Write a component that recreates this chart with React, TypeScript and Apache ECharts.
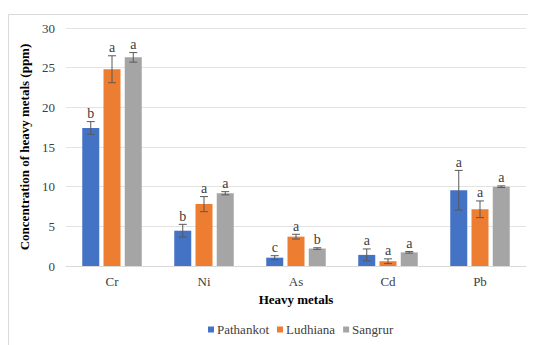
import React, { useEffect, useRef } from "react";
import * as echarts from "echarts";

const categories = ["Cr", "Ni", "As", "Cd", "Pb"];
const seriesNames = ["Pathankot", "Ludhiana", "Sangrur"];
const pathankot = [17.4, 4.45, 1.05, 1.4, 9.55];
const ludhiana = [24.8, 7.8, 3.7, 0.6, 7.15];
const sangrur = [26.3, 9.17, 2.2, 1.72, 10.0];
const pathankotErr = [0.8, 0.8, 0.25, 0.75, 2.5];
const ludhianaErr = [1.7, 0.95, 0.3, 0.3, 1.05];
const sangrurErr = [0.6, 0.2, 0.1, 0.1, 0.1];
const pathankotLetters = ["b", "b", "c", "a", "a"];
const ludhianaLetters = ["a", "a", "a", "a", "a"];
const sangrurLetters = ["a", "a", "b", "a", "a"];
const yTicks = { min: 0, max: 30, interval: 5 };

const colors = ["#4472C4", "#ED7D31", "#A5A5A5"];
const FONT = "Liberation Serif";
const BAR_W = 17;
const GAP = 4.25;

export default function App() {
  const ref = useRef<HTMLDivElement>(null);
  useEffect(() => {
    if (!ref.current) return;
    const chart = echarts.init(ref.current, null, { renderer: "svg" });
    const values = [pathankot, ludhiana, sangrur];
    const errs = [pathankotErr, ludhianaErr, sangrurErr];
    const letters = [pathankotLetters, ludhianaLetters, sangrurLetters];
    const offsets = [-(BAR_W + GAP), 0, BAR_W + GAP];

    const barSeries = seriesNames.map((name, i) => ({
      name,
      type: "bar",
      data: values[i],
      barWidth: BAR_W,
      barGap: "25%",
      itemStyle: { color: colors[i] },
    }));

    const errSeries = seriesNames.map((name, i) => ({
      type: "custom",
      name: name + "-err",
      z: 5,
      data: values[i].map((v, k) => [k, v, errs[i][k]]),
      renderItem: (params: any, api: any) => {
        const x = api.value(0);
        const v = api.value(1);
        const e = api.value(2);
        const top = api.coord([x, v + e]);
        const bot = api.coord([x, v - e]);
        const cx = top[0] + offsets[i];
        const st = { stroke: "#595959", lineWidth: 1 };
        const cap = 4;
        return {
          type: "group",
          children: [
            { type: "line", shape: { x1: cx, y1: top[1], x2: cx, y2: bot[1] }, style: st },
            { type: "line", shape: { x1: cx - cap, y1: top[1], x2: cx + cap, y2: top[1] }, style: st },
            { type: "line", shape: { x1: cx - cap, y1: bot[1], x2: cx + cap, y2: bot[1] }, style: st },
            {
              type: "text",
              x: cx,
              y: top[1] - 1,
              style: {
                text: letters[i][params.dataIndex],
                fontFamily: FONT,
                fontSize: 14,
                fill: "#404040",
                align: "center",
                verticalAlign: "bottom",
              },
            },
          ],
        };
      },
    }));

    chart.setOption({
      animation: false,
      textStyle: { fontFamily: FONT },
      graphic: [
        {
          type: "rect",
          shape: { x: 0.5, y: 6.5, width: 560, height: 400 },
          style: { fill: "none", stroke: "#D9D9D9", lineWidth: 1 },
          silent: true,
        },
      ],
      legend: {
        data: seriesNames,
        left: 195,
        top: 310,
        icon: "rect",
        itemWidth: 6,
        itemHeight: 6,
        itemGap: 8,
        textStyle: { fontFamily: FONT, fontSize: 13, color: "#404040", padding: [0, 0, 0, -2] },
      },
      grid: { left: 58, right: 10, top: 20, bottom: 79 },
      xAxis: {
        type: "category",
        data: categories,
        axisTick: { show: false },
        axisLine: { lineStyle: { color: "#D9D9D9" } },
        axisLabel: { fontFamily: FONT, fontSize: 13, color: "#404040", margin: 9 },
        name: "Heavy metals",
        nameLocation: "middle",
        nameGap: 25,
        nameTextStyle: { fontFamily: FONT, fontSize: 13, fontWeight: "bold", color: "#000" },
      },
      yAxis: {
        type: "value",
        min: yTicks.min,
        max: yTicks.max,
        interval: yTicks.interval,
        axisLine: { show: false },
        axisTick: { show: false },
        splitLine: { lineStyle: { color: "#E3E3E3" } },
        axisLabel: { fontFamily: FONT, fontSize: 13, color: "#404040", margin: 11 },
        name: "Concentration of heavy metals (ppm)",
        nameLocation: "middle",
        nameGap: 30,
        nameTextStyle: { fontFamily: FONT, fontSize: 13, fontWeight: "bold", color: "#000" },
      },
      series: [...barSeries, ...errSeries],
    });
    return () => chart.dispose();
  }, []);
  return <div ref={ref} style={{ width: 528, height: 337 }} />;
}
